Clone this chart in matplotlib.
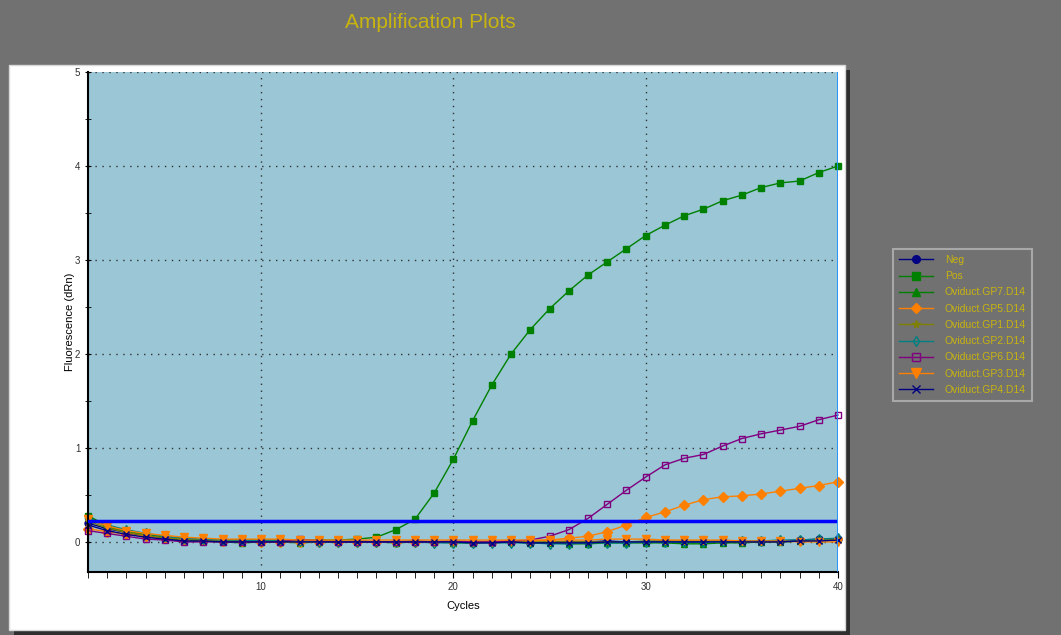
import numpy as np
import matplotlib
matplotlib.use("Agg")
import matplotlib.pyplot as plt
from matplotlib.patches import Rectangle
from matplotlib.ticker import MultipleLocator

plt.rcParams["font.family"] = ["Liberation Sans", "DejaVu Sans"]

cycles = np.arange(1, 41)

neg = [0.20, 0.14, 0.10, 0.06, 0.04, 0.02, 0.01, 0.01, 0.02, 0.01,
       0.00, 0.01, 0.00, 0.00, 0.01, 0.00, 0.00, 0.01, 0.00, 0.00,
       -0.01, 0.00, 0.00, -0.01, 0.00, 0.00, 0.00, 0.01, 0.00, 0.00,
       0.01, 0.00, 0.00, 0.01, 0.00, 0.01, 0.01, 0.02, 0.03, 0.03]
pos = [0.28, 0.17, 0.12, 0.08, 0.05, 0.03, 0.02, 0.02, 0.02, 0.02,
       0.02, 0.02, 0.02, 0.02, 0.03, 0.05, 0.13, 0.24, 0.52, 0.88,
       1.29, 1.67, 2.00, 2.26, 2.48, 2.67, 2.84, 2.98, 3.12, 3.26,
       3.37, 3.47, 3.54, 3.63, 3.69, 3.77, 3.82, 3.84, 3.93, 4.00]
gp7 = [0.26, 0.16, 0.11, 0.07, 0.04, 0.02, 0.01, 0.00, -0.01, 0.00,
       0.00, -0.01, 0.00, 0.00, 0.00, 0.00, -0.01, 0.00, 0.00, -0.01,
       -0.01, 0.00, 0.00, -0.01, -0.01, -0.02, -0.02, -0.01, -0.01, -0.01,
       -0.01, -0.02, -0.02, -0.01, -0.01, 0.00, 0.00, 0.01, 0.02, 0.03]
gp5 = [0.14, 0.11, 0.08, 0.06, 0.04, 0.03, 0.02, 0.01, 0.01, 0.00,
       0.00, 0.00, 0.00, 0.00, 0.00, 0.00, 0.00, 0.00, 0.00, 0.00,
       0.00, 0.00, 0.01, 0.01, 0.02, 0.04, 0.06, 0.11, 0.18, 0.26,
       0.32, 0.39, 0.45, 0.48, 0.49, 0.51, 0.54, 0.57, 0.60, 0.64]
gp1 = [0.22, 0.15, 0.10, 0.07, 0.04, 0.03, 0.02, 0.01, 0.01, 0.01,
       0.00, 0.00, 0.01, 0.00, 0.00, 0.00, 0.00, 0.00, 0.00, 0.00,
       0.00, 0.00, 0.00, 0.00, 0.00, 0.00, 0.00, 0.00, 0.00, 0.01,
       0.01, 0.01, 0.01, 0.01, 0.00, 0.00, 0.00, 0.01, 0.02, 0.03]
gp2 = [0.25, 0.18, 0.13, 0.09, 0.06, 0.04, 0.03, 0.02, 0.02, 0.01,
       0.01, 0.01, 0.00, 0.00, 0.00, 0.00, 0.00, 0.00, -0.01, -0.01,
       -0.01, -0.01, -0.01, -0.01, -0.02, -0.02, -0.01, -0.01, -0.01, 0.00,
       0.00, 0.00, 0.00, 0.01, 0.01, 0.01, 0.02, 0.02, 0.03, 0.04]
gp6 = [0.12, 0.09, 0.06, 0.03, 0.02, 0.00, 0.00, 0.00, 0.00, 0.00,
       0.00, 0.03, 0.01, 0.00, 0.00, 0.00, 0.00, 0.00, 0.00, 0.01,
       0.00, 0.00, 0.01, 0.02, 0.06, 0.13, 0.25, 0.40, 0.55, 0.69,
       0.82, 0.89, 0.93, 1.02, 1.10, 1.15, 1.19, 1.23, 1.30, 1.35]
gp3 = [0.24, 0.17, 0.12, 0.09, 0.07, 0.05, 0.04, 0.03, 0.03, 0.03,
       0.03, 0.02, 0.02, 0.02, 0.02, 0.02, 0.02, 0.02, 0.02, 0.02,
       0.02, 0.02, 0.02, 0.02, 0.02, 0.02, 0.02, 0.03, 0.03, 0.03,
       0.02, 0.02, 0.02, 0.02, 0.01, 0.01, 0.01, 0.00, 0.00, 0.00]
gp4 = [0.18, 0.12, 0.08, 0.05, 0.03, 0.01, 0.01, 0.00, 0.00, 0.00,
       0.00, 0.00, 0.00, 0.00, 0.00, 0.00, 0.00, 0.00, 0.00, 0.00,
       -0.01, -0.01, 0.00, -0.01, -0.01, -0.01, -0.01, 0.00, 0.00, 0.00,
       0.00, 0.00, 0.00, 0.00, 0.00, 0.00, 0.00, 0.01, 0.01, 0.02]

names = ["Neg", "Pos", "Oviduct.GP7.D14", "Oviduct.GP5.D14", "Oviduct.GP1.D14",
         "Oviduct.GP2.D14", "Oviduct.GP6.D14", "Oviduct.GP3.D14", "Oviduct.GP4.D14"]
series = [neg, pos, gp7, gp5, gp1, gp2, gp6, gp3, gp4]
threshold = 0.223

styles = [
    dict(color="#000080", marker="o", ms=5),
    dict(color="#008000", marker="s", ms=5),
    dict(color="#008000", marker="^", ms=5),
    dict(color="#FF8000", marker="D", ms=5),
    dict(color="#808000", marker="*", ms=5),
    dict(color="#008080", marker="d", ms=5, mfc="none"),
    dict(color="#800080", marker="s", ms=5, mfc="none"),
    dict(color="#FF8000", marker="v", ms=6),
    dict(color="#000080", marker="x", ms=5),
]

txt_yellow = "#C8B40F"
fig = plt.figure(figsize=(10.61, 6.35), dpi=100)
fig.patch.set_facecolor("#717171")
W, H = 1061, 635

# white chart panel with a dark drop shadow
fig.patches.append(Rectangle((14 / W, 0), 836 / W, (635 - 70) / H,
                             transform=fig.transFigure, facecolor="#2e2e2e",
                             edgecolor="none", zorder=-2))
fig.patches.append(Rectangle((9 / W, 5 / H), 836 / W, (630 - 65) / H,
                             transform=fig.transFigure, facecolor="white",
                             edgecolor="#d8d8d8", lw=1, zorder=-1))

ax = fig.add_axes([88 / W, (635 - 572) / H, 750 / W, 500 / H])
ax.set_zorder(2)
ax.set_facecolor("#9AC6D6")

for name, vals, st in zip(names, series, styles):
    ax.plot(cycles, vals, lw=1, label=name, mec=st["color"],
            mfc=st.get("mfc", st["color"]), color=st["color"],
            marker=st["marker"], ms=st["ms"], clip_on=False)

ax.axhline(threshold, color="#0000FF", lw=2.5, zorder=5)
ax.axvline(40, color="#1E90FF", lw=2, zorder=6)

ax.set_xlim(1, 40)
ax.set_ylim(-0.32, 5)
ax.xaxis.set_major_locator(MultipleLocator(10))
ax.xaxis.set_minor_locator(MultipleLocator(1))
ax.yaxis.set_major_locator(MultipleLocator(1))
ax.yaxis.set_minor_locator(MultipleLocator(0.5))
ax.grid(True, which="major", color="#333333", ls=(0, (1, 4)), lw=1)
ax.tick_params(axis="both", which="both", labelsize=7, color="black")
ax.tick_params(axis="x", which="both", length=4, direction="out")
ax.tick_params(axis="y", which="both", length=4, direction="inout")
for lbl in ax.get_xticklabels() + ax.get_yticklabels():
    lbl.set_color("#303030")
for side in ["top", "right"]:
    ax.spines[side].set_visible(False)
ax.spines["left"].set_lw(1.5)
ax.spines["bottom"].set_lw(1.5)

ax.set_xlabel("Cycles", fontsize=8, labelpad=6)
ax.set_ylabel("Fluorescence (dRn)", fontsize=8, labelpad=0)

fig.text(430 / W, 1 - 23 / H, "Amplification Plots", color=txt_yellow,
         fontsize=15, ha="center", va="center")

leg = fig.legend(loc="upper left", bbox_to_anchor=(888 / W, 1 - 244 / H),
                 fontsize=7.5, frameon=True, facecolor="#717171",
                 edgecolor="#a8a8a8", labelspacing=0.6, handlelength=3.3,
                 borderpad=0.55, handletextpad=1.1, fancybox=False, framealpha=1,
                 markerscale=1.1)
leg.get_frame().set_linewidth(1.5)
for t in leg.get_texts():
    t.set_color(txt_yellow)

fig.savefig("out.png", dpi=100, facecolor=fig.get_facecolor())
